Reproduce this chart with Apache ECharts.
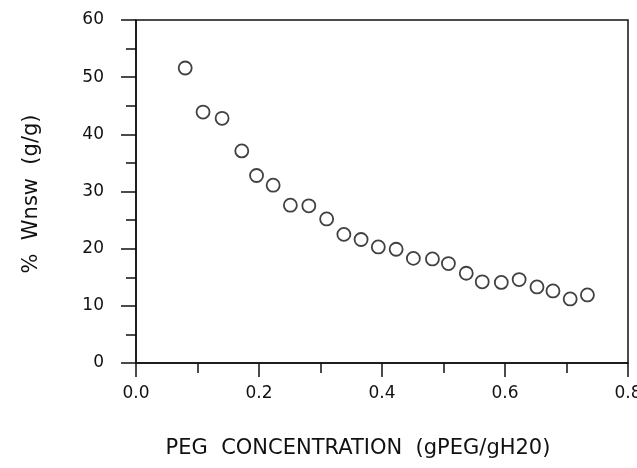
<!DOCTYPE html>
<html>
<head>
<meta charset="utf-8">
<script src="https://cdn.jsdelivr.net/npm/echarts@6/dist/echarts.min.js"></script>
<style>html,body{margin:0;padding:0;background:#fff}#c{width:637px;height:468px}</style>
</head>
<body>
<div id="c"></div>
<script>
var pegConc = [0.080, 0.109, 0.140, 0.172, 0.196, 0.223, 0.251, 0.281, 0.310, 0.338, 0.366, 0.394, 0.423, 0.451, 0.482, 0.508, 0.537, 0.563, 0.594, 0.623, 0.652, 0.678, 0.706, 0.734];
var wnsw = [51.6, 43.9, 42.8, 37.1, 32.8, 31.1, 27.6, 27.5, 25.2, 22.5, 21.6, 20.3, 19.9, 18.3, 18.2, 17.4, 15.7, 14.2, 14.1, 14.6, 13.3, 12.6, 11.2, 11.9];
var xTitle = 'PEG  CONCENTRATION  (gPEG/gH20)';
var yTitle = '%  Wnsw  (g/g)';

var pts = pegConc.map(function (x, i) { return [x, wnsw[i]]; });
var chart = echarts.init(document.getElementById('c'), null, {renderer: 'canvas'});
var font = 'DejaVu Sans';
var lineCol = '#111';
chart.setOption({
  animation: false,
  backgroundColor: '#fff',
  grid: {left: 136, right: 9, top: 20, bottom: 105, outerBoundsMode: 'none', containLabel: false, show: true, borderColor: lineCol, borderWidth: 1.5, backgroundColor: 'transparent'},
  xAxis: {
    type: 'value', min: 0, max: 0.8, interval: 0.2,
    axisLine: {show: true, onZero: false, lineStyle: {color: lineCol, width: 1.5}},
    axisTick: {show: true, inside: false, length: 14, lineStyle: {color: lineCol, width: 1.5}},
    minorTick: {show: true, splitNumber: 2, length: 10, lineStyle: {color: lineCol, width: 1.5}},
    splitLine: {show: false},
    axisLabel: {margin: 22, color: '#111', fontFamily: font, fontSize: 17, formatter: function (v) { return v.toFixed(1); }}
  },
  yAxis: {
    type: 'value', min: 0, max: 60, interval: 10,
    axisLine: {show: true, onZero: false, lineStyle: {color: lineCol, width: 1.5}},
    axisTick: {show: true, inside: false, length: 15, lineStyle: {color: lineCol, width: 1.5}},
    minorTick: {show: true, splitNumber: 2, length: 10, lineStyle: {color: lineCol, width: 1.5}},
    splitLine: {show: false},
    axisLabel: {margin: 32, color: '#111', fontFamily: font, fontSize: 17}
  },
  graphic: [
    {type: 'text', x: 358, y: 449, style: {text: xTitle, fill: '#111', font: '21px "DejaVu Sans"', textAlign: 'center', textVerticalAlign: 'middle'}},
    {type: 'text', x: 32, y: 194, rotation: Math.PI / 2, style: {text: yTitle, fill: '#111', font: '21px "DejaVu Sans"', textAlign: 'center', textVerticalAlign: 'middle'}}
  ],
  series: [{
    type: 'scatter', data: pts, symbol: 'circle', symbolSize: 13,
    itemStyle: {color: '#fff', borderColor: '#111', borderWidth: 1.8}
  }]
});
</script>
</body>
</html>
